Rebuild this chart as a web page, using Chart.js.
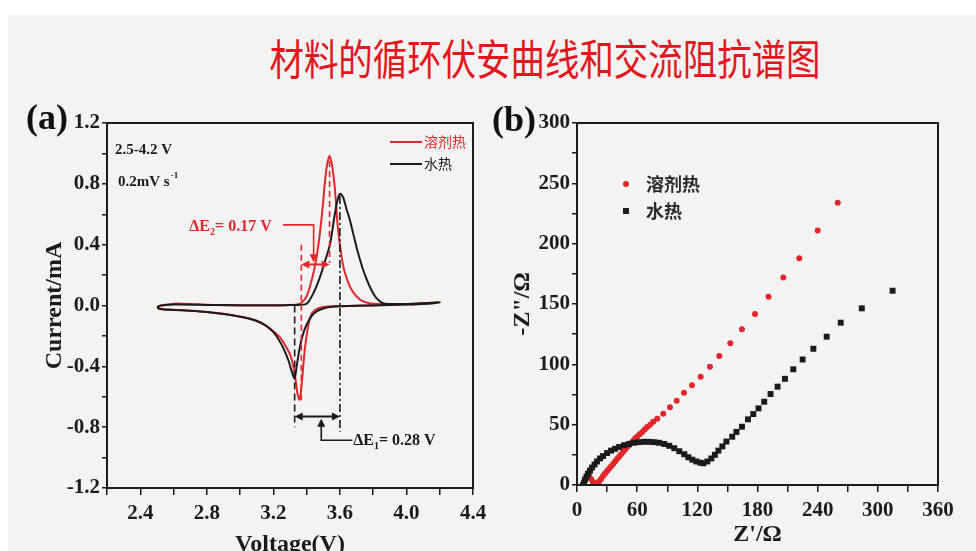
<!DOCTYPE html>
<html lang="zh">
<head>
<meta charset="UTF-8">
<title>材料的循环伏安曲线和交流阻抗谱图</title>
<script src="https://cdn.jsdelivr.net/npm/chart.js"></script>
<style>
  html, body { margin: 0; padding: 0; width: 976px; height: 551px; overflow: hidden; background: #fff; }
  .sheet { position: absolute; left: 8px; top: 15px; width: 968px; height: 536px; background: #f3f3f3; }
  .title {
    position: absolute; left: 0; top: 36px; width: 1090px; text-align: center;
    font-family: 'Noto Sans CJK SC', sans-serif; font-size: 42px; line-height: 42px; color: #e3161e;
    transform: scaleX(0.82); transform-origin: 545px 50%; white-space: nowrap;
  }
  .box { position: absolute; top: 90px; height: 480px; }
  #boxA { left: 0; width: 500px; }
  #boxB { left: 480px; width: 496px; }
</style>
</head>
<body>
<div class="sheet"></div>
<div class="title">材料的循环伏安曲线和交流阻抗谱图</div>
<div class="box" id="boxA"><canvas id="cv"></canvas></div>
<div class="box" id="boxB"><canvas id="eis"></canvas></div>

<script>
// series names and colours
const seriesNames = ['溶剂热', '水热'];
const seriesColors = ['#e2262a', '#1b1b1b'];

// (a) cyclic voltammograms, [voltage V, current mA], anodic sweep then cathodic sweep
const solvoCV = [
  [2.52,0],[2.6,0.012],[2.7,0.01],[2.8,0.005],[3.0,0],[3.2,0],[3.3,0.003],[3.358,0.01],[3.4,0.06],
  [3.438,0.2],[3.46,0.32],[3.478,0.46],[3.495,0.63],[3.508,0.79],[3.522,0.92],[3.538,0.985],[3.553,0.92],
  [3.568,0.79],[3.588,0.51],[3.618,0.27],[3.65,0.15],[3.678,0.09],[3.72,0.04],[3.758,0.02],[3.8,0.012],
  [3.9,0.01],[4.0,0.01],[4.1,0.015],[4.2,0.02],
  [4.1,0.012],[4.0,0.008],[3.8,0.002],[3.6,-0.005],[3.5,-0.01],[3.45,-0.03],[3.42,-0.08],[3.39,-0.28],
  [3.37,-0.52],[3.358,-0.62],[3.345,-0.58],[3.338,-0.52],[3.318,-0.39],[3.3,-0.32],[3.27,-0.26],[3.24,-0.21],
  [3.2,-0.17],[3.15,-0.128],[3.1,-0.1],[3.05,-0.084],[3.0,-0.072],[2.9,-0.054],[2.8,-0.042],[2.7,-0.034],
  [2.6,-0.028],[2.54,-0.025],[2.51,-0.02],[2.505,-0.01],[2.52,0]
];
const hydroCV = [
  [2.52,0],[2.6,0.006],[2.8,0.004],[3.0,0.002],[3.2,0.002],[3.3,0.004],[3.398,0.01],[3.44,0.08],[3.478,0.18],
  [3.51,0.29],[3.54,0.4],[3.568,0.59],[3.585,0.69],[3.602,0.735],[3.62,0.71],[3.638,0.64],[3.658,0.57],
  [3.685,0.45],[3.708,0.35],[3.735,0.25],[3.758,0.18],[3.79,0.1],[3.818,0.05],[3.858,0.015],[3.9,0.01],
  [4.0,0.01],[4.1,0.015],[4.2,0.02],
  [4.1,0.01],[4.0,0.006],[3.8,0],[3.6,-0.005],[3.54,-0.01],[3.5,-0.02],[3.458,-0.04],[3.43,-0.07],
  [3.398,-0.13],[3.375,-0.2],[3.358,-0.28],[3.34,-0.4],[3.328,-0.48],[3.315,-0.45],[3.29,-0.36],[3.26,-0.28],
  [3.23,-0.22],[3.2,-0.175],[3.15,-0.13],[3.1,-0.102],[3.05,-0.085],[3.0,-0.074],[2.9,-0.056],[2.8,-0.043],
  [2.7,-0.035],[2.6,-0.029],[2.54,-0.026],[2.51,-0.02],[2.505,-0.01],[2.52,0]
];
// peak potentials used for the ΔE markers
const solvoPeaks = [3.368, 3.538];
const hydroPeaks = [3.328, 3.6];

// (b) Nyquist plots, [Z' Ω, -Z'' Ω]
const solvoEIS = [
  [12,8],[14,5],[16,2.5],[18,1],[20,1],[22,3],[24,5],[26,7.5],[28,9.5],[30,11.5],[32,13.5],[34,15.5],
  [36,17.5],[38,19.5],[40,21.5],[42,23.5],[44,25.5],[46,27.5],[48,29.5],[50,31.5],[52,33],[54,35],
  [56,36.5],[58,38.5],[60,40],[62.5,42],[65,44],[67.5,46],[70,48],[73,50],[76,52.5],[80,55],[86,59],
  [92.7,64.4],[99.4,69.9],[106.7,76.5],[114.7,82.6],[123.3,89.8],[132.6,98],[141.9,107],[152.9,117.4],
  [164.5,129],[177.5,141.7],[191,156],[205.7,172],[221.7,188],[240,211],[260,234]
];
const hydroEIS = [
  [6,0],[7,2],[8,4.5],[9.5,7],[11,9.5],[13,12],[15,14.5],[17.5,17],[20,19.5],[23,22],[26,24],[30,26.5],
  [34,28.5],[38,30],[42,31.5],[47,33],[52,34],[57,35],[62,35.5],[67,35.8],[72,35.8],[77,35.5],[82,35],
  [87,34],[92,32.5],[97,30.5],[102,28],[107,25.5],[111,23],[115,21],[119,19.5],[123,18.5],[126,18],
  [130,19.5],[134,22],[137.5,25],[141,28.5],[145,32],[149,36],[154.8,40],[159,44],[164.5,48.3],
  [170.5,54.4],[175.8,58.8],[181,63.5],[186.7,69],[193,75.4],[200,81.5],[207.4,88],[215.7,95.9],
  [225,104],[235.7,112.9],[249,122.9],[263,134.5],[284,146.4],[314.7,161]
];

const ink = '#1b1b1b';
const serif = 'Liberation Serif';

function toXY(rows) {
  return rows.map(r => ({ x: r[0], y: r[1] }));
}

// one linear axis, labels only on every n-th step
function axis(min, max, step, every, digits, size, title, titlePad, tickLen, tickPad) {
  return {
    type: 'linear', min, max,
    afterFit: s => { if (s.isHorizontal()) s.height = size; else s.width = size; },
    border: { display: true, color: ink, width: 2 },
    grid: { drawOnChartArea: false, drawTicks: true, tickLength: tickLen, color: ink, lineWidth: 1.5 },
    ticks: {
      stepSize: step, autoSkip: false, maxRotation: 0, padding: tickPad, color: ink,
      font: { family: serif, weight: 'bold', size: 21 },
      callback: v => {
        const k = Math.round(v / step);
        return k % every === 0 ? (k * step).toFixed(digits) : '';
      }
    },
    title: { display: true, text: title, color: ink, padding: titlePad,
      font: { family: serif, weight: 'bold', size: 24 } }
  };
}

function head(ctx, x, y, ang, len = 8, half = 4) {
  const c = Math.cos(ang), s = Math.sin(ang);
  ctx.beginPath();
  ctx.moveTo(x, y);
  ctx.lineTo(x - len * c - half * s, y - len * s + half * c);
  ctx.lineTo(x - len * c + half * s, y - len * s - half * c);
  ctx.closePath();
  ctx.fill();
}

function segment(ctx, x1, y1, x2, y2, dash) {
  ctx.setLineDash(dash || []);
  ctx.beginPath();
  ctx.moveTo(x1, y1);
  ctx.lineTo(x2, y2);
  ctx.stroke();
  ctx.setLineDash([]);
}

// "ΔE" + subscript + rest
function deltaText(ctx, x, y, sub, rest, align) {
  const big = 'bold 16px "' + serif + '"', small = 'bold 10px "' + serif + '"';
  ctx.font = big;
  const w1 = ctx.measureText('ΔE').width, w3 = ctx.measureText(rest).width;
  ctx.font = small;
  const w2 = ctx.measureText(sub).width;
  let left = align === 'right' ? x - (w1 + w2 + w3) : x;
  ctx.textAlign = 'left';
  ctx.textBaseline = 'middle';
  ctx.font = big; ctx.fillText('ΔE', left, y);
  ctx.font = small; ctx.fillText(sub, left + w1, y + 6);
  ctx.font = big; ctx.fillText(rest, left + w1 + w2, y);
}

function frame(chart) {
  const { ctx, chartArea: a } = chart;
  ctx.save();
  ctx.strokeStyle = ink;
  ctx.lineWidth = 2;
  ctx.strokeRect(a.left, a.top, a.right - a.left, a.bottom - a.top);
  ctx.restore();
}

const cvExtras = {
  id: 'cvExtras',
  afterDraw(chart) {
    frame(chart);
    const { ctx, chartArea: a, scales: { x, y } } = chart;
    const px = v => x.getPixelForValue(v), py = v => y.getPixelForValue(v);
    const red = seriesColors[0];
    ctx.save();
    ctx.lineWidth = 1.6;

    // ΔE2 (溶剂热)
    ctx.strokeStyle = red; ctx.fillStyle = red;
    segment(ctx, px(solvoPeaks[0]), py(0.40), px(solvoPeaks[0]), py(-0.62), [6, 4]);
    segment(ctx, px(solvoPeaks[1]), py(0.95), px(solvoPeaks[1]), py(0.28), [6, 4]);
    ctx.lineWidth = 2;
    segment(ctx, px(solvoPeaks[0]) + 6, py(0.27), px(solvoPeaks[1]) - 6, py(0.27));
    head(ctx, px(solvoPeaks[0]), py(0.27), Math.PI);
    head(ctx, px(solvoPeaks[1]), py(0.27), 0);
    ctx.lineWidth = 1.6;
    ctx.beginPath();
    ctx.moveTo(px(3.258), py(0.53));
    ctx.lineTo(px(3.442), py(0.53));
    ctx.lineTo(px(3.442), py(0.33));
    ctx.stroke();
    head(ctx, px(3.442), py(0.285), Math.PI / 2);
    deltaText(ctx, px(3.19), py(0.52), '2', '= 0.17 V', 'right');

    // ΔE1 (水热)
    ctx.strokeStyle = ink; ctx.fillStyle = ink;
    segment(ctx, px(hydroPeaks[0]), py(0), px(hydroPeaks[0]), py(-0.8), [7, 4]);
    segment(ctx, px(hydroPeaks[1]), py(0.72), px(hydroPeaks[1]), py(-0.83), [8, 3, 2, 3]);
    ctx.lineWidth = 2;
    segment(ctx, px(hydroPeaks[0]) + 6, py(-0.73), px(hydroPeaks[1]) - 6, py(-0.73));
    head(ctx, px(hydroPeaks[0]), py(-0.73), Math.PI);
    head(ctx, px(hydroPeaks[1]), py(-0.73), 0);
    ctx.lineWidth = 1.6;
    head(ctx, px(3.488), py(-0.745), -Math.PI / 2);
    ctx.beginPath();
    ctx.moveTo(px(3.488), py(-0.78));
    ctx.lineTo(px(3.488), py(-0.886));
    ctx.lineTo(px(3.675), py(-0.886));
    ctx.stroke();
    deltaText(ctx, px(3.68), py(-0.89), '1', '= 0.28 V', 'left');

    // scan conditions
    ctx.fillStyle = ink;
    ctx.textAlign = 'left'; ctx.textBaseline = 'middle';
    ctx.font = 'bold 15px "' + serif + '"';
    ctx.fillText('2.5-4.2 V', a.left + 8, a.top + 27);
    ctx.fillText('0.2mV s', a.left + 11, a.top + 59);
    const w = ctx.measureText('0.2mV s').width;
    ctx.font = 'bold 9px "' + serif + '"';
    ctx.fillText('-1', a.left + 12 + w, a.top + 53);

    // legend
    seriesNames.forEach((name, i) => {
      const ly = a.top + 19 + i * 22;
      ctx.strokeStyle = seriesColors[i];
      ctx.lineWidth = 2;
      segment(ctx, a.right - 83, ly, a.right - 51, ly);
      ctx.fillStyle = seriesColors[i];
      ctx.font = '14px "Noto Sans CJK SC"';
      ctx.fillText(name, a.right - 49, ly);
    });

    // panel label
    ctx.fillStyle = '#111';
    ctx.font = 'bold 36px "' + serif + '"';
    ctx.fillText('(a)', a.left - 81, a.top - 3);
    ctx.restore();
  }
};

const eisExtras = {
  id: 'eisExtras',
  afterDraw(chart) {
    frame(chart);
    const { ctx, chartArea: a } = chart;
    ctx.save();
    ctx.textAlign = 'left'; ctx.textBaseline = 'middle';
    seriesNames.forEach((name, i) => {
      const ly = a.top + 61 + i * 27;
      const mx = a.left + 49;
      ctx.fillStyle = seriesColors[i];
      if (i === 0) {
        ctx.beginPath(); ctx.arc(mx, ly, 3, 0, Math.PI * 2); ctx.fill();
      } else {
        ctx.fillRect(mx - 3, ly - 3, 6, 6);
      }
      ctx.fillStyle = '#2a2a2a';
      ctx.font = 'bold 18px "Noto Sans CJK SC"';
      ctx.fillText(name, mx + 20, ly);
    });
    ctx.fillStyle = '#111';
    ctx.font = 'bold 36px "' + serif + '"';
    ctx.fillText('(b)', a.left - 85, a.top - 1);
    ctx.restore();
  }
};

new Chart(document.getElementById('cv'), {
  type: 'scatter',
  data: {
    datasets: [
      { label: seriesNames[1], data: toXY(hydroCV), showLine: true, borderColor: seriesColors[1],
        borderWidth: 2, pointRadius: 0, tension: 0.25 },
      { label: seriesNames[0], data: toXY(solvoCV), showLine: true, borderColor: seriesColors[0],
        borderWidth: 2, pointRadius: 0, tension: 0.25 }
    ]
  },
  options: {
    responsive: true, maintainAspectRatio: false, animation: false, events: [],
    layout: { padding: { left: 0, top: 33, right: 27, bottom: 0 } },
    plugins: { legend: { display: false }, tooltip: { enabled: false } },
    scales: {
      x: axis(2.2, 4.4, 0.2, 2, 1, 82, 'Voltage(V)', { top: 0, bottom: 11 }, 7, 6),
      y: axis(-1.2, 1.2, 0.2, 2, 1, 107, 'Current/mA', { top: 40, bottom: 0 }, 5, 2)
    }
  },
  plugins: [cvExtras]
});

new Chart(document.getElementById('eis'), {
  type: 'scatter',
  data: {
    datasets: [
      { label: seriesNames[1], data: toXY(hydroEIS), pointStyle: 'rect', pointRadius: 4.2,
        backgroundColor: seriesColors[1], borderWidth: 0 },
      { label: seriesNames[0], data: toXY(solvoEIS), pointStyle: 'circle', pointRadius: 3,
        backgroundColor: seriesColors[0], borderWidth: 0 }
    ]
  },
  options: {
    responsive: true, maintainAspectRatio: false, animation: false, events: [],
    layout: { padding: { left: 0, top: 33, right: 38, bottom: 0 } },
    plugins: { legend: { display: false }, tooltip: { enabled: false } },
    scales: {
      x: axis(0, 360, 30, 2, 0, 85, "Z'/Ω", { top: 0, bottom: 21 }, 7, 6),
      y: axis(0, 300, 25, 2, 0, 97, '-Z"/Ω', { top: 28, bottom: 0 }, 5, 2)
    }
  },
  plugins: [eisExtras]
});
</script>
</body>
</html>
